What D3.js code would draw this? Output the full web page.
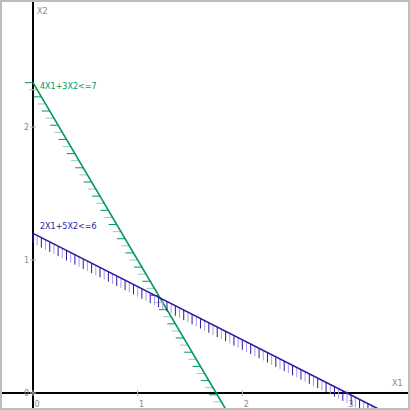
<!DOCTYPE html>
<html>
<head>
<meta charset="utf-8">
<style>
  body { margin: 0; background: white; }
  svg { display: block; font-family: "DejaVu Sans", sans-serif; }
</style>
</head>
<body>
<script src="https://cdnjs.cloudflare.com/ajax/libs/d3/7.8.5/d3.min.js"></script>
<script>
// constraints a*X1 + b*X2 <= c
var labels = ["4X1+3X2<=7", "2X1+5X2<=6"];
var coefA = [4, 2];
var coefB = [3, 5];
var rhs = [7, 6];
var lineColors = ["#00955a", "#2a18a6"];
var hatchLight = ["#8fd0ad", "#aa9ce0"];
var xTicks = [0, 1, 2, 3];
var yTicks = [0, 1, 2];
var hatchStep = 0.04;

var W = 410, H = 410;
var svg = d3.select("body").append("svg").attr("width", W).attr("height", H);

var x = d3.scaleLinear().domain([0, 3]).range([33, 347]);
var y = d3.scaleLinear().domain([0, 2]).range([393, 127]);

svg.append("defs").append("clipPath").attr("id", "clip")
  .append("rect").attr("x", 2).attr("y", 2).attr("width", W - 4).attr("height", H - 4);

var g = svg.append("g").attr("clip-path", "url(#clip)");

// axes
g.append("line").attr("x1", 0).attr("x2", W).attr("y1", y(0)).attr("y2", y(0))
  .attr("stroke", "#000").attr("stroke-width", 2);
g.append("line").attr("x1", x(0)).attr("x2", x(0)).attr("y1", 0).attr("y2", H)
  .attr("stroke", "#000").attr("stroke-width", 2);

// ticks
g.selectAll(".xt").data(xTicks).enter().append("line")
  .attr("x1", d => x(d)).attr("x2", d => x(d))
  .attr("y1", y(0) - 3).attr("y2", y(0) + 3)
  .attr("stroke", "#a8c8a8").attr("stroke-width", 1);
g.selectAll(".yt").data(yTicks).enter().append("line")
  .attr("x1", x(0) - 3).attr("x2", x(0) + 3)
  .attr("y1", d => y(d)).attr("y2", d => y(d))
  .attr("stroke", "#a8c8a8").attr("stroke-width", 1);

g.selectAll(".xl").data(xTicks).enter().append("text")
  .attr("x", d => x(d) + 4).attr("y", y(0) + 14)
  .attr("text-anchor", "middle").attr("font-size", 8).attr("fill", "#8a8a8a")
  .text(d => d);
g.selectAll(".yl").data(yTicks).enter().append("text")
  .attr("x", x(0) - 4).attr("y", d => y(d) + 3)
  .attr("text-anchor", "end").attr("font-size", 8).attr("fill", "#8a8a8a")
  .text(d => d);

g.append("text").attr("x", 392).attr("y", 386).attr("font-size", 8).attr("fill", "#8a8a8a").text("X1");
g.append("text").attr("x", 37).attr("y", 14).attr("font-size", 8).attr("fill", "#8a8a8a").text("X2");

var yBottom = y.invert(H);

labels.forEach(function(lab, i) {
  var a = coefA[i], b = coefB[i], c = rhs[i];
  var fy = function(v) { return (c - a * v) / b; };
  var xEnd = (c - b * yBottom) / a;

  // hatches
  var pts = d3.range(0, xEnd, hatchStep);
  g.selectAll(".h" + i).data(pts).enter().append("line")
    .attr("x1", d => x(d)).attr("y1", d => y(fy(d)))
    .attr("x2", d => i === 0 ? x(d) - 8 : x(d))
    .attr("y2", d => i === 0 ? y(fy(d)) : y(fy(d)) + 10)
    .attr("stroke", (d, k) => k % 2 === 0 ? lineColors[i] : hatchLight[i])
    .attr("stroke-width", 1);

  g.append("line")
    .attr("x1", x(0)).attr("y1", y(fy(0)))
    .attr("x2", x(xEnd)).attr("y2", y(yBottom))
    .attr("stroke", lineColors[i]).attr("stroke-width", 1.6);

  g.append("text")
    .attr("x", x(0) + 7).attr("y", y(fy(0)) + (i === 0 ? 6 : -4))
    .attr("font-size", 8).attr("fill", lineColors[i]).text(lab);
});

// border
svg.append("rect").attr("x", 1).attr("y", 1).attr("width", W - 2).attr("height", H - 2)
  .attr("fill", "none").attr("stroke", "#bdbdbd").attr("stroke-width", 2);
</script>
</body>
</html>
